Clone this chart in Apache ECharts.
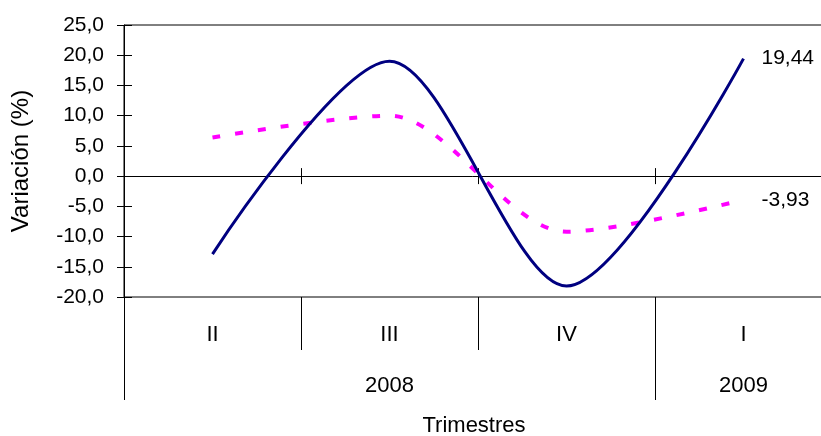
<!DOCTYPE html>
<html>
<head>
<meta charset="utf-8">
<title>Variación trimestral</title>
<script src="https://cdn.jsdelivr.net/npm/echarts@6/dist/echarts.min.js"></script>
<style>
  html, body { margin: 0; padding: 0; background: #fff; }
  #chart { width: 821px; height: 436px; }
</style>
</head>
<body>
<div id="chart"></div>
<script>
// Quarters shown on the category axis and the year each group belongs to
const quarters = ['II', 'III', 'IV', 'I'];
const yearLabels = ['', '2008', '', '2009'];

// Quarterly variation (%) of the two series
const serieAzul = [-12.9, 19.0, -18.2, 19.44];
const serieMagenta = [6.4, 10.0, -9.2, -3.93];

// Value axis ticks
const yMin = -20;
const yMax = 25;
const yStep = 5;

const FONT = 'Liberation Sans, Arial, sans-serif';
const fmtComma = (v, d) => v.toFixed(d).replace('.', ',');

const chart = echarts.init(document.getElementById('chart'), null, { renderer: 'canvas' });

const hiddenLabel = { show: false };
const blackLine = { lineStyle: { color: '#000', width: 1 } };

chart.setOption({
  animation: false,
  backgroundColor: '#fff',
  textStyle: { fontFamily: FONT, color: '#000' },
  grid: {
    left: 124, top: 25, width: 708, height: 272,
    outerBoundsMode: 'none', containLabel: false,
    show: true, borderColor: '#000', borderWidth: 1, backgroundColor: 'transparent'
  },
  yAxis: [
    {
      type: 'value', position: 'left', min: yMin, max: yMax, interval: yStep,
      axisLine: { show: true, ...blackLine },
      axisTick: { show: true, inside: false, length: 7, ...blackLine },
      axisLabel: {
        margin: 20, fontSize: 21, color: '#000', fontFamily: FONT,
        formatter: v => fmtComma(v, 1)
      },
      splitLine: { show: false },
      name: 'Variación (%)', nameLocation: 'middle', nameGap: 91,
      nameTextStyle: { fontSize: 24, color: '#000', fontFamily: FONT }
    },
    {
      type: 'value', position: 'left', min: yMin, max: yMax, interval: yStep,
      axisLine: { show: false },
      axisTick: { show: true, inside: true, length: 8, ...blackLine },
      axisLabel: hiddenLabel,
      splitLine: { show: false }
    }
  ],
  xAxis: [
    {
      // zero line with ticks above it
      type: 'category', data: quarters, position: 'bottom', boundaryGap: true,
      axisLine: { show: true, onZero: true, onZeroAxisIndex: 0, ...blackLine },
      axisTick: { show: true, inside: true, length: 8, ...blackLine },
      axisLabel: hiddenLabel,
      splitLine: { show: false }
    },
    {
      // ticks below the zero line
      type: 'category', data: quarters, position: 'bottom', boundaryGap: true,
      axisLine: { show: false, onZero: true, onZeroAxisIndex: 1 },
      axisTick: { show: true, inside: false, length: 8, ...blackLine },
      axisLabel: hiddenLabel,
      splitLine: { show: false }
    },
    {
      // quarter labels under the plot
      type: 'category', data: quarters, position: 'bottom', boundaryGap: true,
      axisLine: { show: false, onZero: false },
      axisTick: { show: true, inside: false, length: 53, ...blackLine },
      axisLabel: { interval: 0, margin: 27, fontSize: 22, color: '#000', fontFamily: FONT },
      splitLine: { show: false },
      name: 'Trimestres', nameLocation: 'middle', nameGap: 118,
      nameTextStyle: { fontSize: 22, color: '#000', fontFamily: FONT, padding: [0, 8, 0, 0] }
    },
    {
      // year labels, one tick at the start of each year
      type: 'category', data: yearLabels, position: 'bottom', boundaryGap: true,
      axisLine: { show: false, onZero: false },
      axisTick: {
        show: true, inside: false, length: 103, ...blackLine,
        interval: (i) => i === 0 || i === 3
      },
      axisLabel: { interval: 0, margin: 78, fontSize: 22, color: '#000', fontFamily: FONT },
      splitLine: { show: false }
    }
  ],
  series: [
    {
      name: 'Serie 1', type: 'line', xAxisIndex: 0, yAxisIndex: 0,
      data: serieAzul, smooth: 0.3, symbol: 'none',
      lineStyle: { color: '#000080', width: 3 },
      endLabel: {
        show: true, distance: 18, fontSize: 21, color: '#000', fontFamily: FONT,
        formatter: p => fmtComma(p.value, 2)
      },
      z: 3
    },
    {
      name: 'Serie 2', type: 'line', xAxisIndex: 0, yAxisIndex: 0,
      data: serieMagenta, smooth: 0.3, symbol: 'none',
      lineStyle: { color: '#FF00FF', width: 4, type: [8, 15] },
      endLabel: {
        show: true, distance: 18, fontSize: 21, color: '#000', fontFamily: FONT,
        formatter: p => fmtComma(p.value, 2)
      },
      z: 2
    }
  ]
});
</script>
</body>
</html>
